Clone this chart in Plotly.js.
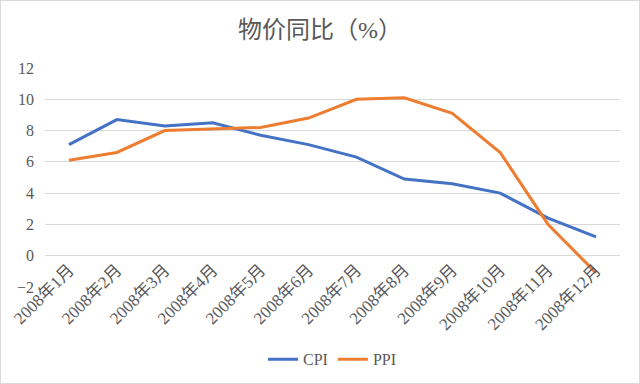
<!DOCTYPE html>
<html><head><meta charset="utf-8">
<script src="https://cdn.plot.ly/plotly-3.0.1.min.js"></script>
<style>
html,body{margin:0;padding:0;background:#fff;}
#chart{width:638px;height:382px;border:1px solid #d9d9d9;}
</style></head>
<body><div id="chart"></div>
<script>
const months = ['2008年1月','2008年2月','2008年3月','2008年4月','2008年5月','2008年6月','2008年7月','2008年8月','2008年9月','2008年10月','2008年11月','2008年12月'];
const cpi = [7.1, 8.7, 8.3, 8.5, 7.7, 7.1, 6.3, 4.9, 4.6, 4.0, 2.4, 1.2];
const ppi = [6.1, 6.6, 8.0, 8.1, 8.2, 8.8, 10.0, 10.1, 9.1, 6.6, 2.0, -1.1];
const yTicks = [-2, 0, 2, 4, 6, 8, 10, 12];

const font = 'Liberation Serif, "Noto Sans CJK SC", serif';
const data = [
  {x: months, y: cpi, type: 'scatter', mode: 'lines', name: 'CPI', line: {color: '#4472C4', width: 3}},
  {x: months, y: ppi, type: 'scatter', mode: 'lines', name: 'PPI', line: {color: '#ED7D31', width: 3}}
];
const layout = {
  width: 638, height: 382,
  margin: {l: 44, r: 19, t: 67, b: 96, autoexpand: false},
  paper_bgcolor: '#fff', plot_bgcolor: '#fff',
  font: {family: font, color: '#595959', size: 16},
  title: {text: '物价同比（%）', font: {family: font, size: 24, color: '#595959'}, x: 0.5, xanchor: 'center', y: 0.925, yanchor: 'middle'},
  xaxis: {type: 'category', range: [-0.5, 11.5], tickangle: -45, showgrid: false, zeroline: false, showline: false, ticks: '', tickfont: {size: 17}, anchor: 'free', position: 2/14, automargin: false},
  yaxis: {range: [-2, 12], tickvals: yTicks, showgrid: true, gridcolor: '#d9d9d9', gridwidth: 1, zeroline: false, showline: false, ticks: '', tickfont: {size: 16}, ticklabelstandoff: 10, automargin: false},
  showlegend: true,
  legend: {orientation: 'h', x: 0.5, xanchor: 'center', y: -0.33, yanchor: 'middle', font: {size: 16}}
};
Plotly.newPlot('chart', data, layout, {displayModeBar: false, staticPlot: true});
</script></body></html>
